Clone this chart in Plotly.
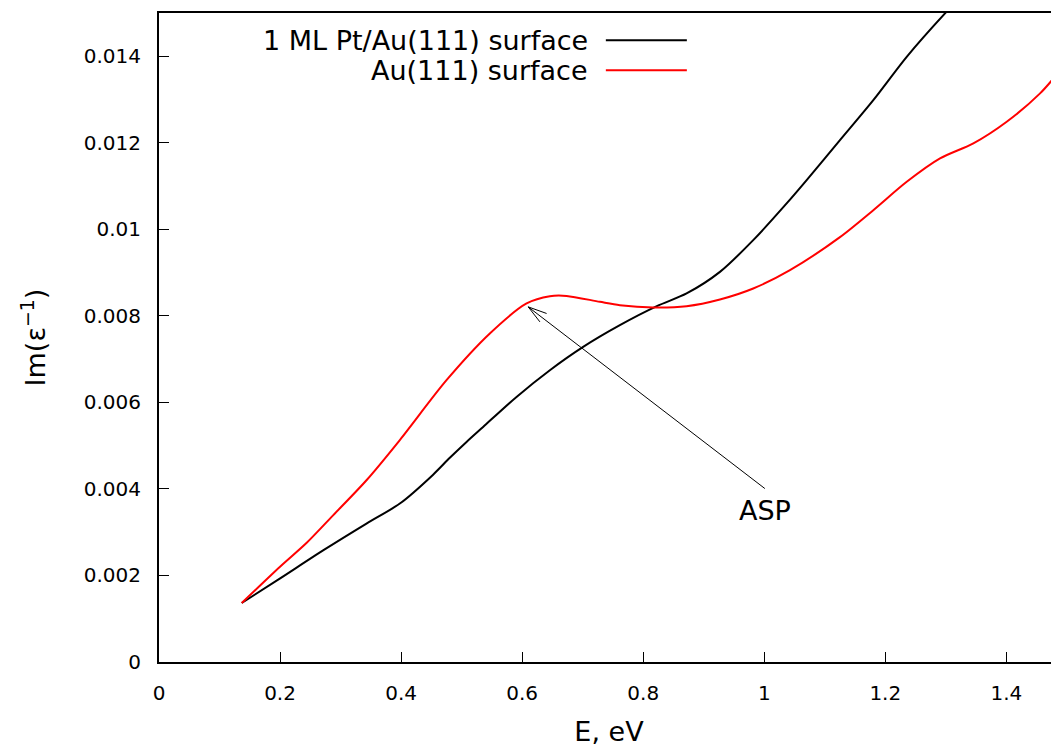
import plotly.graph_objects as go

# Data (E in eV, Im(1/eps))
e_ptau = [0.1367, 0.1995, 0.2711, 0.3428, 0.3979, 0.4529, 0.4805, 0.5081, 0.5355, 0.5907,
          0.6458, 0.7008, 0.7615, 0.8226, 0.8717, 0.9268, 0.9818, 1.0370, 1.0701, 1.1251,
          1.1802, 1.2354, 1.2987, 1.3300]
im_ptau = [0.001364, 0.001928, 0.002580, 0.003200, 0.003662, 0.004330, 0.004720, 0.005087,
           0.005433, 0.006127, 0.006744, 0.007283, 0.007785, 0.008224, 0.008518, 0.009017,
           0.009750, 0.010599, 0.011138, 0.012062, 0.012987, 0.013988, 0.014992, 0.015450]

e_au = [0.1367, 0.1995, 0.2436, 0.2876, 0.3428, 0.3979, 0.4750, 0.5466, 0.6073, 0.6458,
        0.6734, 0.7284, 0.7615, 0.8165, 0.8717, 0.9268, 0.9818, 1.0425, 1.1251, 1.1802,
        1.2354, 1.2904, 1.3455, 1.4006, 1.4557, 1.4871]
im_au = [0.001364, 0.002197, 0.002750, 0.003390, 0.004201, 0.005130, 0.006513, 0.007593,
         0.008287, 0.008455, 0.008462, 0.008324, 0.008247, 0.008194, 0.008224, 0.008379,
         0.008633, 0.009057, 0.009820, 0.010443, 0.011098, 0.011639, 0.011986, 0.012486,
         0.013142, 0.013642]

names = ["1 ML Pt/Au(111) surface", "Au(111) surface"]
colors = ["#000000", "#ff0000"]

x_ticks = [0, 0.2, 0.4, 0.6, 0.8, 1.0, 1.2, 1.4]
x_tick_text = ["0", "0.2", "0.4", "0.6", "0.8", "1", "1.2", "1.4"]
y_ticks = [0, 0.002, 0.004, 0.006, 0.008, 0.010, 0.012, 0.014]
y_tick_text = ["0", "0.002", "0.004", "0.006", "0.008", "0.01", "0.012", "0.014"]

asp_tip = (0.610, 0.008208)
asp_tail = (1.001, 0.004009)
asp_label = (1.001, 0.00351)

FONT = "DejaVu Sans"

fig = go.Figure()
for xs, ys, nm, c in [(e_ptau, im_ptau, names[0], colors[0]), (e_au, im_au, names[1], colors[1])]:
    fig.add_trace(go.Scatter(x=xs, y=ys, mode="lines", name=nm,
                             line=dict(color=c, width=2, shape="spline", smoothing=0.8),
                             showlegend=False))

# Manual gnuplot-style legend (text left of the sample line)
leg_y = [0.958, 0.9117]
for nm, c, yy in zip(names, colors, leg_y):
    fig.add_annotation(x=0.4787, y=yy, xref="paper", yref="paper", text=nm,
                       showarrow=False, xanchor="right", yanchor="middle",
                       font=dict(family=FONT, size=27, color="black"))
    fig.add_shape(type="line", xref="paper", yref="paper", x0=0.4965, x1=0.5865,
                  y0=yy, y1=yy, line=dict(color=c, width=2))

# ASP arrow
fig.add_shape(type="line", xref="x", yref="y", x0=asp_tail[0], y0=asp_tail[1],
              x1=asp_tip[0], y1=asp_tip[1], line=dict(color="black", width=1))
fig.add_shape(type="path", xref="x", yref="y", xsizemode="pixel", ysizemode="pixel",
              xanchor=asp_tip[0], yanchor=asp_tip[1],
              path="M 18.4,-6.6 L 0,0 L 11.7,-15", line=dict(color="black", width=1))
fig.add_annotation(x=asp_label[0], y=asp_label[1], xref="x", yref="y", text="ASP",
                   showarrow=False, xanchor="center", yanchor="middle",
                   font=dict(family=FONT, size=27, color="black"))

fig.update_layout(
    width=1051, height=739,
    margin=dict(l=151, r=0, t=5, b=85),
    paper_bgcolor="white", plot_bgcolor="white",
    font=dict(family=FONT, size=20, color="black"),
    xaxis=dict(range=[0, 1.487], tickvals=x_ticks, ticktext=x_tick_text,
               ticks="inside", ticklen=10, tickwidth=1, tickcolor="black",
               showline=True, linewidth=2, linecolor="black", mirror=True,
               showgrid=False, zeroline=False, ticklabelstandoff=12,
               title=dict(text="E, eV", font=dict(family=FONT, size=27), standoff=23)),
    yaxis=dict(range=[0, 0.015], tickvals=y_ticks, ticktext=y_tick_text,
               ticks="inside", ticklen=10, tickwidth=1, tickcolor="black",
               showline=True, linewidth=2, linecolor="black", mirror=False,
               showgrid=False, zeroline=False, ticklabelstandoff=12,
               title=dict(text="Im(ε<sup>−1</sup>)", font=dict(family=FONT, size=27), standoff=30)),
)

fig.write_html("out.html")
